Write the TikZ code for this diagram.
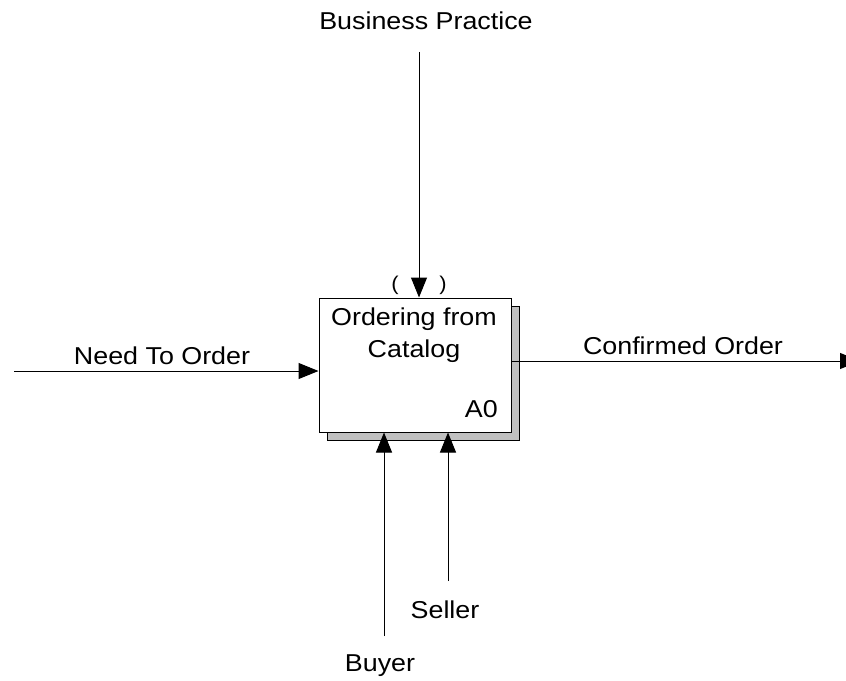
\documentclass[tikz,border=0pt]{standalone}
\usepackage{fontspec}
\setmainfont{Liberation Sans}[FakeStretch=1.1]
\usetikzlibrary{arrows.meta}
\definecolor{shadowgrey}{RGB}{192,192,192}
\begin{document}
\begin{tikzpicture}[x=1bp,y=-1bp,
  lbl/.style={font=\fontsize{24.5}{29}\selectfont, inner sep=0pt, anchor=base},
  tunnel/.style={font=\fontsize{20}{22}\selectfont, inner sep=0pt},
  flow/.style={line width=1bp, -{Triangle[length=20bp,width=16bp]}},
  activity/.style={draw, fill=white, line width=1bp, inner sep=0pt,
    minimum width=192bp, minimum height=134bp},
]
\clip (0,0) rectangle (846,681);
\fill[white] (0,0) rectangle (846,681);

% activity box with its drop shadow
\draw[fill=shadowgrey, line width=1bp] (327,306) rectangle (519,440);
\node[activity] (act) at (415,365) {};
\node[lbl] (title1) at (414,325) {Ordering from};
\node[lbl] (title2) at (414,357) {Catalog};
\node[lbl, anchor=base east] (num) at (498,417) {A0};

% control (top)
\coordinate (ctl) at (419,52);
\draw[flow] (ctl) -- (ctl |- act.north);
\node[lbl] (ctllbl) at (426,30) {Business Practice};
\node[tunnel] (tl) at (395,285) {(};
\node[tunnel] (tr) at (443,285) {)};

% input (left)
\coordinate (in) at (14,371);
\draw[flow] (in) -- (act.west |- in);
\node[lbl] (inlbl) at (162,364) {Need To Order};

% output (right)
\coordinate (out) at (860,361);
\draw[flow] (act.east |- out) -- (out);
\node[lbl] (outlbl) at (683,354) {Confirmed Order};

% mechanisms (bottom)
\coordinate (m1) at (384,636);
\coordinate (m2) at (448,581);
\draw[flow] (m1) -- (m1 |- act.south);
\draw[flow] (m2) -- (m2 |- act.south);
\node[lbl] (m1lbl) at (380,671) {Buyer};
\node[lbl] (m2lbl) at (445,618) {Seller};
\end{tikzpicture}
\end{document}
